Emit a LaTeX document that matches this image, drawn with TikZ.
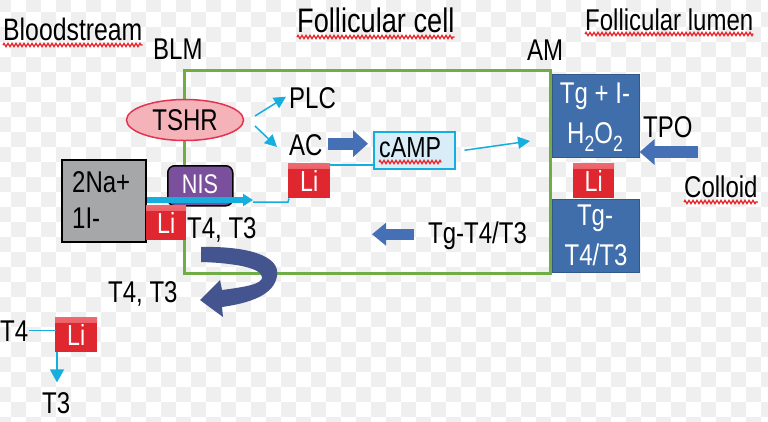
\documentclass[tikz,border=0pt]{standalone}
\usepackage{fontspec}
\setmainfont{Liberation Sans}[FakeStretch=0.8]
\usetikzlibrary{arrows.meta,shapes.geometric,decorations.pathmorphing,calc}
\definecolor{memgreen}{HTML}{70AD47}
\definecolor{cy}{HTML}{16AEDF}
\definecolor{tgblue}{HTML}{3F6EAB}
\definecolor{arrblue}{HTML}{4670B5}
\definecolor{curvblue}{HTML}{44548F}
\definecolor{lired}{HTML}{E0262F}
\definecolor{lipink}{HTML}{EE6A70}
\definecolor{tshrfill}{HTML}{F4B3B9}
\definecolor{tshrline}{HTML}{E43350}
\definecolor{nisfill}{HTML}{7A4F9C}
\definecolor{grayfill}{HTML}{A6A7A9}
\definecolor{campfill}{HTML}{D8EDF8}
\definecolor{checker}{HTML}{EFEFEF}
\definecolor{squigred}{HTML}{E8262C}
\newcommand\myfs[1]{\fontsize{#1}{#1}\selectfont}
\begin{document}
\begin{tikzpicture}[x=1pt,y=-1pt,
  lbl/.style={inner sep=0pt, anchor=base west, font=\myfs{30}, text=black},
  wlbl/.style={inner sep=0pt, anchor=base, font=\myfs{30}, text=white},
  libox/.style={fill=lired, minimum width=42pt, minimum height=35pt, inner sep=0pt,
     text=white, font=\myfs{29}, anchor=north west,
     path picture={\fill[top color=lipink, bottom color=lired]
        (path picture bounding box.north west) rectangle ([yshift=-5pt]path picture bounding box.north east);}},
  tgbox/.style={fill=tgblue, draw=tgblue!80!black, line width=0.6pt, inner sep=0pt, anchor=north west},
  thin/.style={draw=cy, line width=1.5pt},
  thinarrow/.style={thin, -{Triangle[length=12pt,width=12pt]}},
  squig/.style={draw=squigred, line width=1.3pt, decorate,
     decoration={zigzag, segment length=4pt, amplitude=1.6pt}},
  blockarrow/.style={draw=arrblue, line width=12pt, -{Triangle[length=15pt,width=26pt]}},
]
\useasboundingbox (0,0) rectangle (768,421);
% checkerboard background
\begin{scope}
\clip (0,0) rectangle (768,421);
\foreach \j in {-1,...,27}{
  \pgfmathtruncatemacro\st{mod(\j+2,2)==1 ? -1 : 0}
  \pgfmathtruncatemacro\nx{\st+2}
  \foreach \i in {\st,\nx,...,51}{
    \fill[checker] (11+15*\i,12.3+15*\j) rectangle ++(15,15);
  }
}
\end{scope}

% membrane
\draw[memgreen, line width=3pt] (184,273) -- (184,70) -- (550,70) -- (550,273) -- cycle;

% headings
\node[lbl, font=\myfs{31}] (blood) at (3,40) {Bloodstream};
\node[lbl] (blm) at (153,59) {BLM};
\node[lbl, font=\myfs{34}] (fcell) at (297,32) {Follicular cell};
\node[lbl] (flumen) at (585,30) {Follicular lumen};
\node[lbl] (am) at (527,60) {AM};
\draw[squig] ([yshift=-5pt]blood.base west) -- ([yshift=-5pt]blood.base east);
\draw[squig] ([yshift=-5pt]fcell.base west) -- ([yshift=-5pt]fcell.base east);
\draw[squig] ([yshift=-4pt]flumen.base west) -- ([yshift=-4pt]flumen.base east);

% TSHR, PLC, AC
\node[ellipse, draw=tshrline, fill=tshrfill, line width=1.5pt, minimum width=117pt, minimum height=41pt,
      inner sep=0pt, font=\myfs{30}] (tshr) at (185,120) {TSHR};
\node[lbl] (plc) at (289,108) {PLC};
\node[lbl] (ac) at (289,155) {AC};
\coordinate (t1) at (255,116);
\coordinate (t2) at (255,126);
\coordinate (t3) at (277,147);
\draw[thinarrow] (t1) -- ([xshift=-3pt,yshift=1pt]plc.west);
\draw[thinarrow] (t2) -- (t3);

% cAMP
\node[draw=cy, fill=campfill, line width=1.5pt, minimum width=81pt, minimum height=37pt,
      inner sep=0pt, anchor=north west] (camp) at (373,131) {};
\node[lbl, font=\myfs{29}] (camptext) at (379,157) {cAMP};
\draw[squig] ([yshift=-5pt]camptext.base west) -- ([yshift=-5pt]camptext.base east);
\draw[blockarrow, shorten <=5pt, shorten >=5pt] ([yshift=1pt]ac.east) -- ([yshift=1pt]ac.east -| camp.west);
\coordinate (amtip) at (530,141);
\draw[thinarrow] ([xshift=9pt]camp.east) -- (amtip);

% Li near AC
\node[libox] (liac) at (288,163) {Li};
\draw[thin] ([yshift=-2pt]liac.north east) -- ([yshift=-2pt]liac.north east -| camp.west);

% 2Na+ 1I- box
\node[draw=black, fill=grayfill, line width=1.5pt, minimum width=84pt, minimum height=82pt,
      inner sep=0pt, anchor=north west] (ions) at (61,159) {};
\node[lbl] (na) at (72,192) {2Na+};
\node[lbl] (iod) at (72,228) {1I-};

% NIS
\node[draw=black, fill=nisfill, line width=1.5pt, rounded corners=7pt, minimum width=65pt,
      minimum height=40pt, inner sep=0pt, anchor=north west] (nis) at (167,165) {};
\node[wlbl, font=\myfs{27}] at (200,193) {NIS};

% uptake arrow
\coordinate (uptip) at (253,200);
\draw[draw=cy, line width=6pt, -{Triangle[length=10pt,width=12pt]}] (ions.east |- uptip) -- (uptip);
\draw[thin] ([yshift=-2pt]uptip) -- ([yshift=-2pt]uptip -| liac.south west) -- ([xshift=1pt]liac.south west);

% Li left
\node[libox, minimum width=40pt] (lileft) at (146,205) {Li};
\node[lbl] (t4t3a) at (187,238) {T4, T3};

% curved arrow
\fill[curvblue] (201,247) .. controls (245,246) and (281,255) .. (277,276)
   .. controls (274,295) and (250,303) .. (222,307) -- (223,317) -- (200,300) -- (220,280)
   -- (222,290) .. controls (245,287) and (263,284) .. (262,277)
   .. controls (261,268) and (235,263) .. (201,262) -- cycle;
\node[lbl] (t4t3b) at (108,302) {T4, T3};

% bottom-left T4 -> T3
\node[lbl] (t4) at (0,341) {T4};
\node[libox] (libot) at (55,317) {Li};
\draw[thin] ([xshift=1pt]t4.east) -- ([xshift=1pt]t4.east -| libot.west);
\node[lbl] (t3) at (42,413) {T3};
\draw[thin, -{Triangle[length=13pt,width=14pt]}] ([xshift=2pt]libot.south west) -- ++(0,30);

% right side: lumen
\node[tgbox, minimum width=87pt, minimum height=83pt] (tgi) at (552,74) {};
\node[wlbl] (tgitext) at (595,103) {Tg + I-};
\node[wlbl] (h2o2) at (595,143) {H\raisebox{-8pt}{\myfs{22}2}O\raisebox{-8pt}{\myfs{22}2}};
\node[lbl] (tpo) at (643,137) {TPO};
\coordinate (tpotail) at (698,152);
\draw[blockarrow, -{Triangle[length=15pt,width=25pt]}] (tpotail) -- (tpotail -| tgi.east);
\node[libox, minimum width=41pt] (liright) at (573,163) {Li};
\node[lbl] (colloid) at (684,197) {Colloid};
\draw[squig] ([yshift=-5pt]colloid.base west) -- ([yshift=-5pt]colloid.base east);

\node[tgbox, minimum width=87pt, minimum height=73pt] (tgt) at (552,199) {};
\node[wlbl] at (595,225) {Tg-};
\node[wlbl] at (596,265) {T4/T3};
\node[lbl] (tgtext) at (428,243) {Tg-T4/T3};
\draw[draw=arrblue, line width=11pt, -{Triangle[length=14pt,width=22pt]}, shorten <=14pt]
   ([yshift=1pt]tgtext.west) -- ++(-56,0);
\end{tikzpicture}
\end{document}
